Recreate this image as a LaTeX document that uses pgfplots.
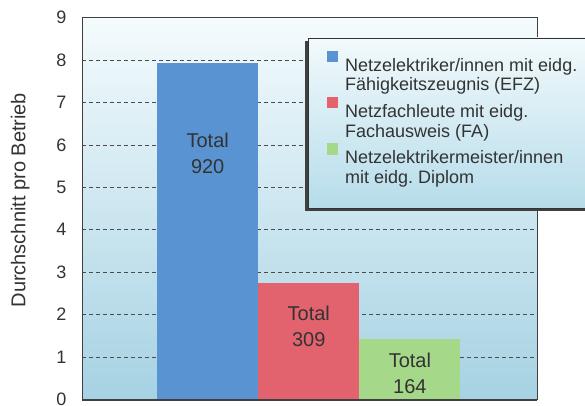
\documentclass[border=0pt]{standalone}
\usepackage{pgfplots}
\pgfplotsset{compat=1.18}
\usepackage{fontspec}
\setmainfont{Liberation Sans}
\frenchspacing
\pgfplotsset{set layers}
\definecolor{bgtop}{HTML}{F4FBFD}
\definecolor{bgbot}{HTML}{A6D2E3}
\definecolor{lgtop}{HTML}{F2FAFC}
\definecolor{lgbot}{HTML}{B6DCEA}
\definecolor{cblue}{HTML}{5A93D2}
\definecolor{cred}{HTML}{E2636E}
\definecolor{cgreen}{HTML}{A6D889}
\definecolor{txt}{HTML}{333333}
\begin{document}
\begin{tikzpicture}[x=1pt,y=1pt]
\begin{axis}[
  at={(82pt,5.5pt)}, anchor=south west,
  scale only axis, width=455pt, height=381.9pt,
  xmin=-0.243, xmax=4.257, ymin=0, ymax=9,
  xtick=\empty, ytick={0,1,...,9},
  ytick style={draw=none},
  yticklabel style={font=\fontsize{18}{20}\selectfont, text=txt, xshift=-12pt},
  /pgf/number format/assume math mode=true,
  ymajorgrids, grid style={dash pattern=on 4pt off 3pt, black!70, line width=0.7pt},
  axis background/.style={shade, top color=bgtop, bottom color=bgbot},
  axis line style={black!75, line width=0.9pt},
  clip=false,
  ylabel={Durchschnitt pro Betrieb},
  every axis y label/.style={at={(axis description cs:-0.136,0.522)}, rotate=90, anchor=center, font=\fontsize{20}{22}\selectfont, text=txt},
  legend cell align=left,
  legend image code/.code={\fill[#1, draw=none] (0pt,3.5pt) rectangle (11pt,15pt);},
  legend style={at={(rel axis cs:0.4967,0.964)}, anchor=north west,
    draw=none, fill=none,
    inner xsep=19pt, inner ysep=19pt,
    row sep=23pt, column sep=6pt,
    nodes={inner sep=1pt, text=txt},
    font=\fontsize{18}{19.5}\selectfont},
]
\fill[black!75] ([xshift=-3pt,yshift=-3pt]rel axis cs:0.4967,0.5014) rectangle ([xshift=-3pt,yshift=-3pt]rel axis cs:1.13,0.9466);
\draw[black!80, line width=0.8pt, top color=lgtop, bottom color=lgbot] (rel axis cs:0.4967,0.5014) rectangle (rel axis cs:1.13,0.9466);
\addplot[ybar, bar width=1, bar shift=0pt, fill=cblue, draw=none] coordinates {(1,7.93)};
\addlegendentry{\parbox[t]{235pt}{Netzelektriker/innen mit eidg.\\Fähigkeitszeugnis (EFZ)}}
\addplot[ybar, bar width=1, bar shift=0pt, fill=cred, draw=none] coordinates {(2,2.75)};
\addlegendentry{\parbox[t]{235pt}{Netzfachleute mit eidg.\\Fachausweis (FA)}}
\addplot[ybar, bar width=1, bar shift=0pt, fill=cgreen, draw=none] coordinates {(3,1.42)};
\addlegendentry{\parbox[t]{235pt}{Netzelektrikermeister/innen\\mit eidg. Diplom}}
\node[align=center, font=\fontsize{20}{25.5}\selectfont, text=txt] at (axis cs:1,5.8) {Total\\920};
\node[align=center, font=\fontsize{20}{25.5}\selectfont, text=txt] at (axis cs:2,1.72) {Total\\309};
\node[align=center, font=\fontsize{20}{25.5}\selectfont, text=txt] at (axis cs:3,0.62) {Total\\164};
\draw[black!75, line width=2pt] (rel axis cs:0,0) -- (rel axis cs:1,0);
\end{axis}
\pgfresetboundingbox
\path[use as bounding box] (0,0) rectangle (585,405);
\end{tikzpicture}
\end{document}
